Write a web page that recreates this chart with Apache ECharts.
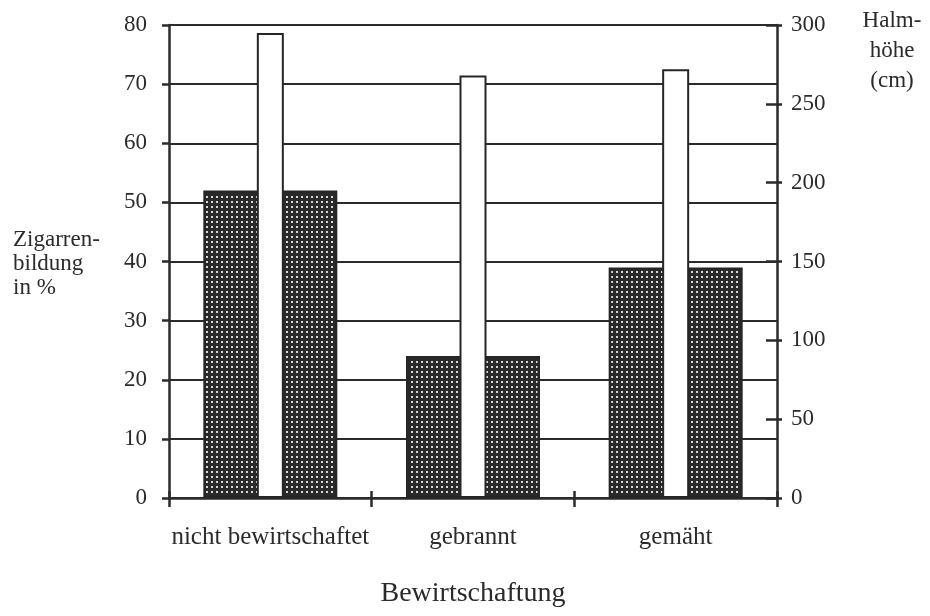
<!DOCTYPE html>
<html>
<head>
<meta charset="utf-8">
<script src="https://cdn.jsdelivr.net/npm/echarts@6/dist/echarts.min.js"></script>
<style>
  html, body { margin: 0; padding: 0; background: #fff; }
  #chart { width: 930px; height: 616px; }
</style>
</head>
<body>
<div id="chart"></div>
<script>
// Daten
const categories = ["nicht bewirtschaftet", "gebrannt", "gemäht"];
const zigarrenbildung = [52, 24, 39];   // linke Achse, %
const halmhoehe = [295, 268, 272];      // rechte Achse, cm

const ink = "#2b2b2b";
const font = "Liberation Serif";

// Punktraster für die grauen Balken
const tile = document.createElement("canvas");
tile.width = 5;
tile.height = 5;
const tctx = tile.getContext("2d");
tctx.fillStyle = "#2a2a2a";
tctx.fillRect(0, 0, 5, 5);
tctx.fillStyle = "#d8d8d8";
tctx.fillRect(1, 1, 2, 2);

const chart = echarts.init(document.getElementById("chart"));

const option = {
  animation: false,
  backgroundColor: "#fff",
  textStyle: { fontFamily: font, color: ink },
  grid: { left: 169, right: 153, top: 25, bottom: 118 },
  xAxis: [
    {
      type: "category",
      data: categories,
      position: "bottom",
      axisLine: { lineStyle: { color: ink, width: 2.5 } },
      axisTick: { show: true, length: 9, lineStyle: { color: ink, width: 2.5 } },
      axisLabel: { interval: 0, fontSize: 25, color: ink, margin: 27, fontFamily: font },
      name: "Bewirtschaftung",
      nameLocation: "middle",
      nameGap: 82,
      nameTextStyle: { fontSize: 28, color: ink, fontFamily: font },
    },
    {
      type: "category",
      data: categories,
      position: "bottom",
      axisLine: { show: false },
      axisTick: { show: true, inside: true, length: 7, lineStyle: { color: ink, width: 2.5 } },
      axisLabel: { show: false },
    },
  ],
  yAxis: [
    {
      type: "value",
      position: "left",
      min: 0,
      max: 80,
      interval: 10,
      axisLine: { show: true, lineStyle: { color: ink, width: 2.5 } },
      axisTick: { show: true, length: 7, lineStyle: { color: ink, width: 2.5 } },
      axisLabel: { fontSize: 23, color: ink, margin: 22, fontFamily: font },
      splitLine: { show: true, lineStyle: { color: ink, width: 2.2 } },
    },
    {
      type: "value",
      position: "right",
      min: 0,
      max: 300,
      interval: 50,
      axisLine: { show: true, lineStyle: { color: ink, width: 2.5 } },
      axisTick: { show: true, inside: true, length: 11, lineStyle: { color: ink, width: 2.5 } },
      axisLabel: { fontSize: 23, color: ink, margin: 14, fontFamily: font },
      splitLine: { show: false },
    },
    {
      type: "value",
      position: "right",
      min: 0,
      max: 300,
      interval: 50,
      axisLine: { show: false },
      axisTick: { show: true, length: 5, lineStyle: { color: ink, width: 2.5 } },
      axisLabel: { show: false },
      splitLine: { show: false },
    },
  ],
  series: [
    {
      name: "Zigarrenbildung",
      type: "bar",
      xAxisIndex: 0,
      yAxisIndex: 0,
      data: zigarrenbildung,
      barWidth: 134,
      itemStyle: {
        color: { image: tile, repeat: "repeat" },
        borderColor: "#262626",
        borderWidth: 2.5,
      },
      z: 2,
    },
    {
      name: "Halmhöhe",
      type: "bar",
      xAxisIndex: 1,
      yAxisIndex: 1,
      data: halmhoehe,
      barWidth: 27,
      itemStyle: {
        color: "#fff",
        borderColor: "#262626",
        borderWidth: 2,
      },
      z: 3,
    },
  ],
  graphic: [
    {
      type: "text",
      left: 13,
      top: 228,
      style: {
        text: "Zigarren-\nbildung\nin %",
        font: "23px " + font,
        fill: ink,
        lineHeight: 24,
      },
    },
    {
      type: "text",
      x: 892,
      y: 6,
      style: {
        text: "Halm-\nhöhe\n(cm)",
        font: "23px " + font,
        fill: ink,
        align: "center",
        lineHeight: 30,
      },
    },
  ],
};

chart.setOption(option);
</script>
</body>
</html>
